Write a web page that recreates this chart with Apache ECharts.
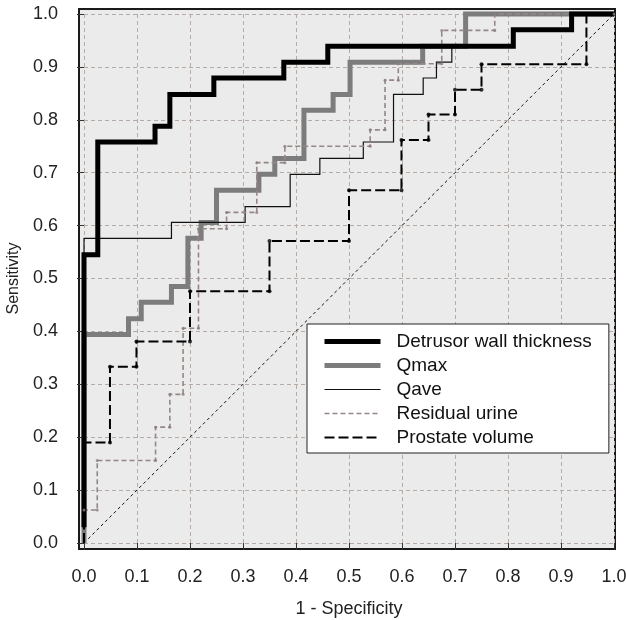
<!DOCTYPE html>
<html>
<head>
<meta charset="utf-8">
<script src="https://cdn.jsdelivr.net/npm/echarts@6/dist/echarts.min.js"></script>
<style>
html,body{margin:0;padding:0;background:#fff;}
#chart{width:626px;height:620px;}
</style>
</head>
<body>
<div id="chart"></div>
<script>
// ---- data ----
const tickValues = [0, 0.1, 0.2, 0.3, 0.4, 0.5, 0.6, 0.7, 0.8, 0.9, 1.0];
const seriesNames = ['Detrusor wall thickness', 'Qmax', 'Qave', 'Residual urine', 'Prostate volume'];

const detrusor = [[0,0.030],[0,0.545],[0.026,0.545],[0.026,0.758],[0.134,0.758],[0.134,0.788],[0.162,0.788],[0.162,0.848],[0.245,0.848],[0.245,0.879],[0.377,0.879],[0.377,0.909],[0.460,0.909],[0.460,0.939],[0.810,0.939],[0.810,0.970],[0.920,0.970],[0.920,1],[1,1]];

const qmax = [[0,0],[0,0.394],[0.084,0.394],[0.084,0.424],[0.108,0.424],[0.108,0.455],[0.165,0.455],[0.165,0.485],[0.196,0.485],[0.196,0.576],[0.221,0.576],[0.221,0.606],[0.250,0.606],[0.250,0.667],[0.330,0.667],[0.330,0.697],[0.360,0.697],[0.360,0.727],[0.415,0.727],[0.415,0.818],[0.470,0.818],[0.470,0.848],[0.502,0.848],[0.502,0.909],[0.639,0.909],[0.639,0.939],[0.720,0.939],[0.720,1],[1,1]];

const qave = [[0,0],[0,0.576],[0.165,0.576],[0.165,0.606],[0.304,0.606],[0.304,0.636],[0.389,0.636],[0.389,0.697],[0.445,0.697],[0.445,0.727],[0.527,0.727],[0.527,0.758],[0.584,0.758],[0.584,0.848],[0.640,0.848],[0.640,0.879],[0.665,0.879],[0.665,0.909],[0.694,0.909],[0.694,0.939],[0.810,0.939],[0.810,0.970],[0.920,0.970],[0.920,1],[1,1]];

const residual = [[0,0],[0,0.0625],[0.025,0.0625],[0.025,0.156],[0.135,0.156],[0.135,0.219],[0.162,0.219],[0.162,0.281],[0.187,0.281],[0.187,0.406],[0.216,0.406],[0.216,0.594],[0.269,0.594],[0.269,0.625],[0.326,0.625],[0.326,0.719],[0.379,0.719],[0.379,0.750],[0.540,0.750],[0.540,0.781],[0.568,0.781],[0.568,0.875],[0.593,0.875],[0.593,0.906],[0.675,0.906],[0.675,0.969],[0.775,0.969],[0.775,1],[1,1]];

const prostate = [[0,0],[0,0.190],[0.049,0.190],[0.049,0.333],[0.099,0.333],[0.099,0.381],[0.200,0.381],[0.200,0.476],[0.350,0.476],[0.350,0.571],[0.500,0.571],[0.500,0.667],[0.599,0.667],[0.599,0.762],[0.650,0.762],[0.650,0.810],[0.700,0.810],[0.700,0.857],[0.750,0.857],[0.750,0.905],[0.948,0.905],[0.948,1],[1,1]];

const chanceLine = [[0,0],[1,1]];

// ---- chart ----
const FONT = '"Liberation Sans", Arial, sans-serif';
const chart = echarts.init(document.getElementById('chart'), null, {renderer: 'canvas'});

const lineBase = {type: 'line', symbol: 'none', clip: false, xAxisIndex: 0, yAxisIndex: 0, animation: false, emphasis: {disabled: true}};

const option = {
  animation: false,
  backgroundColor: '#ffffff',
  grid: [
    {left: 84, top: 14, width: 530, height: 529, show: false, outerBoundsMode: 'none'},
    {left: 79, top: 9, width: 536, height: 540, show: true, backgroundColor: '#ebebeb', borderColor: '#1a1a1a', borderWidth: 2, z: -1, outerBoundsMode: 'none'}
  ],
  xAxis: [
    {
      gridIndex: 0, type: 'value', min: 0, max: 1, interval: 0.1, position: 'bottom', offset: 6,
      axisLine: {show: false},
      axisTick: {show: true, length: 7, lineStyle: {color: '#333', width: 1}},
      axisLabel: {formatter: v => v.toFixed(1), fontSize: 18, color: '#222', margin: 19, fontFamily: FONT},
      splitLine: {show: true, lineStyle: {type: [4, 3], color: '#b5aca8', width: 1}},
      name: '1 - Specificity', nameLocation: 'middle', nameGap: 51,
      nameTextStyle: {fontSize: 18, color: '#222', fontFamily: FONT}
    },
    {gridIndex: 1, type: 'value', show: false, min: 0, max: 1}
  ],
  yAxis: [
    {
      gridIndex: 0, type: 'value', min: 0, max: 1, interval: 0.1, position: 'left', offset: 5,
      axisLine: {show: false},
      axisTick: {show: true, length: 7, lineStyle: {color: '#333', width: 1}},
      axisLabel: {formatter: v => v.toFixed(1), fontSize: 18, color: '#222', margin: 21, fontFamily: FONT},
      splitLine: {show: true, lineStyle: {type: [4, 3], color: '#b5aca8', width: 1}},
      name: 'Sensitivity', nameLocation: 'middle', nameGap: 50,
      nameTextStyle: {fontSize: 16, color: '#222', fontFamily: FONT}
    },
    {gridIndex: 1, type: 'value', show: false, min: 0, max: 1}
  ],
  legend: {
    orient: 'vertical', left: 307, top: 324,
    backgroundColor: '#ffffff', borderColor: '#222', borderWidth: 1,
    padding: [8, 17, 6, 15], itemWidth: 56, itemHeight: 18, itemGap: 5,
    selectedMode: false,
    lineStyle: {width: 'inherit'},
    itemStyle: {opacity: 0},
    textStyle: {fontSize: 19, color: '#111', fontFamily: FONT, padding: [0, 0, 0, 11], lineHeight: 18},
    data: seriesNames
  },
  series: [
    Object.assign({}, lineBase, {name: 'Chance', data: chanceLine, z: 1,
      lineStyle: {color: '#111', width: 1, type: [3, 3]}}),
    Object.assign({}, lineBase, {name: 'Qmax', data: qmax, z: 2,
      lineStyle: {color: '#7c7c7c', width: 5, join: 'miter'}, itemStyle: {color: '#7c7c7c'}}),
    Object.assign({}, lineBase, {name: 'Qave', data: qave, z: 3,
      lineStyle: {color: '#111', width: 1.2, join: 'miter'}, itemStyle: {color: '#111'}}),
    Object.assign({}, lineBase, {name: 'Residual urine', data: residual, z: 4,
      lineStyle: {color: '#958787', width: 1.6, type: [5, 3], join: 'miter'}, itemStyle: {color: '#958787'}}),
    Object.assign({}, lineBase, {name: 'Prostate volume', data: prostate, z: 5,
      lineStyle: {color: '#000', width: 2, type: [10, 4], join: 'miter'}, itemStyle: {color: '#000'}}),
    Object.assign({}, lineBase, {name: 'Detrusor wall thickness', data: detrusor, z: 6,
      lineStyle: {color: '#000', width: 5, join: 'miter'}, itemStyle: {color: '#000'}}),
    {type: 'scatter', name: 'pv-pts', data: prostate.slice(1), symbolSize: 4, z: 7, silent: true,
      itemStyle: {color: '#000'}, xAxisIndex: 0, yAxisIndex: 0, clip: false},
    {type: 'scatter', name: 'ru-pts', data: residual.slice(1), symbolSize: 3, z: 7, silent: true,
      itemStyle: {color: '#8a7c7c'}, xAxisIndex: 0, yAxisIndex: 0, clip: false}
  ]
};
chart.setOption(option);
</script>
</body>
</html>
